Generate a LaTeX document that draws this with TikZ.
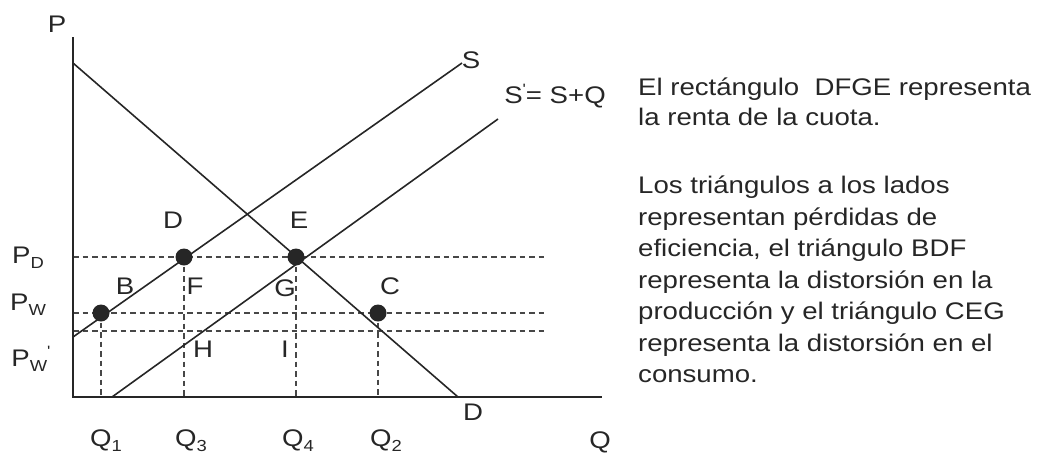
\documentclass[tikz,border=0pt]{standalone}
\usepackage{fontspec}
\newfontfamily\lblfont[FakeStretch=1.15]{Liberation Sans}
\usetikzlibrary{calc}
\definecolor{ink}{HTML}{262626}
\newcommand{\lowsub}[1]{\raisebox{-0.4ex}{\fontsize{16}{16}\selectfont #1}}
\newcommand{\tick}{\raisebox{0.75ex}{\fontsize{15}{15}\selectfont '}}

\begin{document}
\begin{tikzpicture}[x=1pt,y=-1pt,
  axis/.style={line width=2.2pt,draw=ink},
  curve/.style={line width=1.6pt,draw=ink},
  guide/.style={line width=1.8pt,draw=ink!85,dash pattern=on 5.5pt off 4pt},
  lbl/.style={font=\lblfont\fontsize{24}{24}\selectfont,text=ink,inner sep=0pt},
  txt/.style={font=\lblfont\fontsize{24}{30}\selectfont,text=ink,inner sep=0pt,
              align=left,anchor=north west}]

\useasboundingbox (0,0) rectangle (1039,459);

\coordinate (o)    at ( 73,397);
\coordinate (ytop) at ( 73, 37);
\coordinate (xend) at (602,397);

\coordinate (d0) at ( 73, 63);
\coordinate (d1) at (458,397);
\coordinate (s0) at ( 73,337);
\coordinate (s1) at (462, 63);
\coordinate (t0) at (112,397);
\coordinate (t1) at (498,119);

\coordinate (pB) at (101,313);
\coordinate (pD) at (184,257);
\coordinate (pE) at (296,257);
\coordinate (pC) at (378,313);

\coordinate (hD0) at ( 73,257); \coordinate (hD1) at (545,257);
\coordinate (hW0) at ( 73,313); \coordinate (hW1) at (545,313);
\coordinate (hV0) at ( 73,331); \coordinate (hV1) at (545,331);

% dashed guides
\draw[guide] (hD0)--(hD1);
\draw[guide] (hW0)--(hW1);
\draw[guide] (hV0)--(hV1);
\foreach \p in {B,D,E,C}{\draw[guide] (p\p)--(p\p |- o);}

% demand and supply
\draw[curve] (d0)--(d1);
\draw[curve] (s0)--(s1);
\draw[curve] (t0)--(t1);

% axes
\draw[axis] (ytop)--(o)--(xend);

\foreach \p in {B,D,E,C}{\fill[ink] (p\p) circle (8.5);}

\node[lbl] (lP)  at ( 57, 24) {P};
\node[lbl] (lS)  at (471, 60) {S};
\node[lbl] (lT)  at (555, 96) {S\tick{}= S+Q};
\node[lbl] (lDd) at (473,412) {D};
\node[lbl] (lQ)  at (600,442) {Q};

\node[lbl] (lD) at (173,220) {D};
\node[lbl] (lE) at (299,220) {E};
\node[lbl] (lB) at (125,286) {B};
\node[lbl] (lF) at (195,286) {F};
\node[lbl] (lG) at (285,288) {G};
\node[lbl] (lC) at (390,286) {C};
\node[lbl] (lH) at (203,349) {H};
\node[lbl] (lI) at (285,349) {I};

\node[lbl] (pd) at (28,258) {P\lowsub{D}};
\node[lbl] (pw) at (28,305) {P\lowsub{W}};
\node[lbl] (pv) at (31,359) {P\lowsub{W}\tick};

\node[lbl] (q1) at (106,441) {Q\lowsub{1}};
\node[lbl] (q3) at (191,441) {Q\lowsub{3}};
\node[lbl] (q4) at (298,441) {Q\lowsub{4}};
\node[lbl] (q2) at (386,441) {Q\lowsub{2}};

\node[txt] (rent) at (638,78) {El rectángulo\ \ DFGE representa\\la renta de la cuota.};
\node[txt,font=\lblfont\fontsize{24}{31.5}\selectfont] (loss) at (638,176)
  {Los triángulos a los lados\\representan pérdidas de\\eficiencia, el triángulo BDF\\representa la distorsión en la\\producción y el triángulo CEG\\representa la distorsión en el\\consumo.};

\end{tikzpicture}
\end{document}
